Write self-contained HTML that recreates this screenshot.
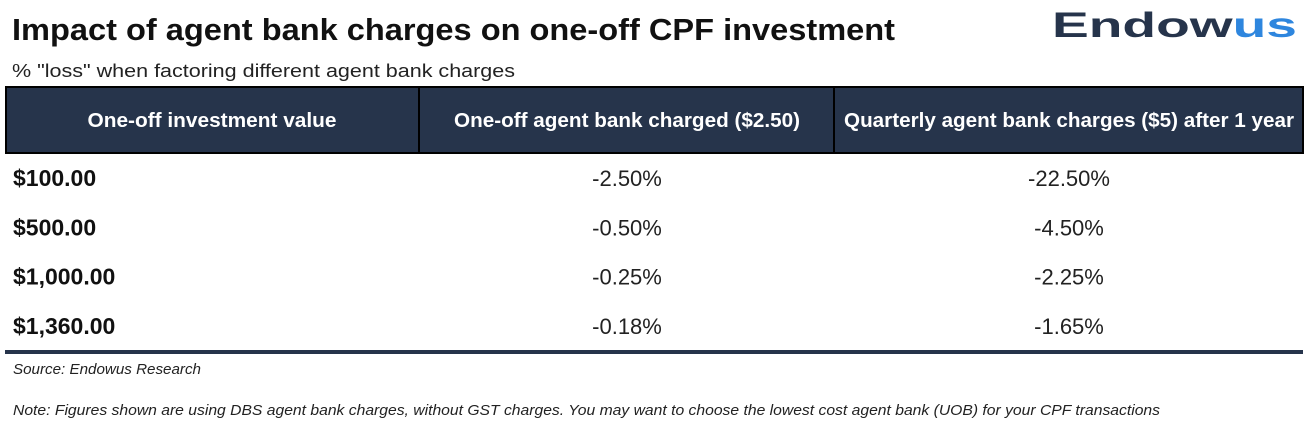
<!DOCTYPE html>
<html><head><meta charset="utf-8"><style>
html,body{margin:0;padding:0;background:#fff;}
svg{display:block;font-family:"Liberation Sans",sans-serif;}
</style></head><body>
<svg id="s" width="1314" height="435" viewBox="0 0 1314 435">
<text x="12" y="40" font-size="31" font-weight="bold" fill="#111" textLength="883" lengthAdjust="spacingAndGlyphs">Impact of agent bank charges on one-off CPF investment</text>
<text x="12" y="77" font-size="18" fill="#222" textLength="503" lengthAdjust="spacingAndGlyphs">% "loss" when factoring different agent bank charges</text>
<text x="1052" y="37" font-size="35" font-weight="bold" textLength="245" lengthAdjust="spacingAndGlyphs"><tspan fill="#26344b">Endow</tspan><tspan fill="#2e86de">us</tspan></text>
<rect x="6" y="87" width="1297" height="66" fill="#26344b" stroke="#000" stroke-width="2"/>
<line x1="419" y1="87" x2="419" y2="153" stroke="#000" stroke-width="2"/>
<line x1="834" y1="87" x2="834" y2="153" stroke="#000" stroke-width="2"/>
<g id="body"></g>
<rect x="5" y="350" width="1298" height="4" fill="#26344b"/>
<text x="13" y="374" font-size="15" font-style="italic" fill="#222" textLength="188" lengthAdjust="spacingAndGlyphs">Source: Endowus Research</text>
<text x="13" y="415" font-size="15" font-style="italic" fill="#222" textLength="1147" lengthAdjust="spacingAndGlyphs">Note: Figures shown are using DBS agent bank charges, without GST charges. You may want to choose the lowest cost agent bank (UOB) for your CPF transactions</text>
</svg>
<script>
const headers = ["One-off investment value", "One-off agent bank charged ($2.50)", "Quarterly agent bank charges ($5) after 1 year"];
const investmentValues = ["$100.00", "$500.00", "$1,000.00", "$1,360.00"];
const oneOffLoss = ["-2.50%", "-0.50%", "-0.25%", "-0.18%"];
const quarterlyLoss = ["-22.50%", "-4.50%", "-2.25%", "-1.65%"];

const NS = "http://www.w3.org/2000/svg";
const svg = document.getElementById("s");
const body = document.getElementById("body");
const colCenters = [212, 627, 1069];
const headerWidths = [249, 346, 450];
function mk(parent, x, y, txt, opts) {
  const t = document.createElementNS(NS, "text");
  t.setAttribute("x", x); t.setAttribute("y", y);
  for (const k in opts) t.setAttribute(k, opts[k]);
  t.textContent = txt;
  parent.appendChild(t);
  return t;
}
headers.forEach((h, i) => {
  const t = mk(svg, colCenters[i], 127, h, {"font-size": 20, "font-weight": "bold", fill: "#fff", "text-anchor": "middle", textLength: headerWidths[i], lengthAdjust: "spacingAndGlyphs"});
  
  
});
const rowTop = 178, rowStep = 49.3;
investmentValues.forEach((v, i) => {
  const y = rowTop + i * rowStep + 8;
  const a = mk(body, 13, y, v, {"font-size": 23, "font-weight": "bold", fill: "#111"});
  
  
  const b = mk(body, colCenters[1], y, oneOffLoss[i], {"font-size": 22, fill: "#222", "text-anchor": "middle"});
  
  
  const c = mk(body, colCenters[2], y, quarterlyLoss[i], {"font-size": 22, fill: "#222", "text-anchor": "middle"});
  
  
});
</script>
</body></html>
